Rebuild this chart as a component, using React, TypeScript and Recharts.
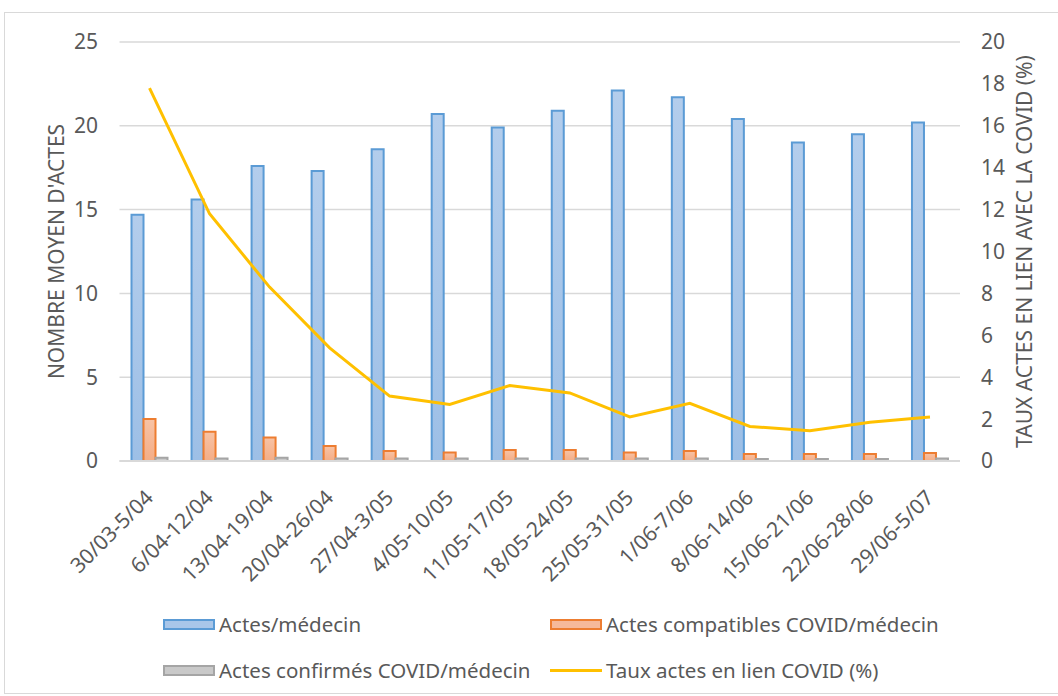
import React from 'react';
import {
  Bar,
  CartesianGrid,
  ComposedChart,
  Line,
  XAxis,
  YAxis,
} from 'recharts';

const weeks = [
  '30/03-5/04',
  '6/04-12/04',
  '13/04-19/04',
  '20/04-26/04',
  '27/04-3/05',
  '4/05-10/05',
  '11/05-17/05',
  '18/05-24/05',
  '25/05-31/05',
  '1/06-7/06',
  '8/06-14/06',
  '15/06-21/06',
  '22/06-28/06',
  '29/06-5/07',
];
const actes = [14.7, 15.6, 17.6, 17.3, 18.6, 20.7, 19.9, 20.9, 22.1, 21.7, 20.4, 19.0, 19.5, 20.2];
const compatibles = [2.5, 1.75, 1.4, 0.9, 0.6, 0.5, 0.65, 0.65, 0.5, 0.6, 0.42, 0.42, 0.42, 0.48];
const confirmes = [0.2, 0.15, 0.2, 0.15, 0.15, 0.15, 0.15, 0.15, 0.15, 0.15, 0.12, 0.12, 0.12, 0.15];
const taux = [17.8, 11.8, 8.3, 5.4, 3.1, 2.7, 3.6, 3.25, 2.1, 2.75, 1.65, 1.45, 1.85, 2.1];

const leftTicks = [0, 5, 10, 15, 20, 25];
const rightTicks = [0, 2, 4, 6, 8, 10, 12, 14, 16, 18, 20];

const data = weeks.map((week, i) => ({
  week,
  actes: actes[i],
  compatibles: compatibles[i],
  confirmes: confirmes[i],
  taux: taux[i],
}));

const FONT = '"Noto Sans", "Open Sans", sans-serif';
const TEXT = '#595959';

const legendItems = [
  { label: 'Actes/médecin', kind: 'box', fill: '#a9c6e9', stroke: '#5b9bd5' },
  { label: 'Actes compatibles COVID/médecin', kind: 'box', fill: '#f6b99a', stroke: '#ed7d31' },
  { label: 'Actes confirmés COVID/médecin', kind: 'box', fill: '#c9c9c9', stroke: '#a5a5a5' },
  { label: 'Taux actes en lien COVID (%)', kind: 'line', fill: 'none', stroke: '#ffc000' },
];

function WeekTick(props: any) {
  const { x, y, payload } = props;
  return (
    <g transform={`translate(${x + 5},${y + 30})`}>
      <text
        textAnchor="end"
        transform="rotate(-45)"
        fill={TEXT}
        fontSize={21}
        fontFamily={FONT}
      >
        {payload.value}
      </text>
    </g>
  );
}

function AxisTitle({ viewBox, text, dx }: any) {
  const cx = viewBox.x + dx;
  const cy = viewBox.y + viewBox.height / 2;
  return (
    <text
      x={cx}
      y={cy}
      transform={`rotate(-90, ${cx}, ${cy})`}
      textAnchor="middle"
      dominantBaseline="central"
      fill={TEXT}
      fontSize={21}
      fontFamily={FONT}
    >
      {text}
    </text>
  );
}

export default function App() {
  return (
    <div
      style={{
        position: 'absolute',
        left: 4,
        top: 12,
        width: 1060,
        height: 680,
        border: '1px solid #d9d9d9',
        background: '#fff',
        fontFamily: FONT,
      }}
    >
      <ComposedChart
        width={1052}
        height={600}
        data={data}
        margin={{ top: 29, right: 17, bottom: 0, left: 34.5 }}
        barCategoryGap="20%"
        barGap={0}
      >
        <defs>
          <linearGradient id="blueFill" x1="0" y1="0" x2="0" y2="1">
            <stop offset="0%" stopColor="#b3cdec" />
            <stop offset="100%" stopColor="#9dbfe6" />
          </linearGradient>
          <linearGradient id="orangeFill" x1="0" y1="0" x2="0" y2="1">
            <stop offset="0%" stopColor="#f8c3a5" />
            <stop offset="100%" stopColor="#f4ad86" />
          </linearGradient>
        </defs>
        <CartesianGrid yAxisId="left" vertical={false} stroke="#d9d9d9" strokeWidth={1.5} />
        <XAxis
          dataKey="week"
          height={152}
          interval={0}
          tickLine={false}
          axisLine={{ stroke: '#d9d9d9', strokeWidth: 2 }}
          tick={<WeekTick />}
        />
        <YAxis
          yAxisId="left"
          width={80}
          domain={[0, 25]}
          ticks={leftTicks}
          axisLine={false}
          tickLine={false}
          tickSize={0}
          tickMargin={21.5}
          tick={{ fill: TEXT, fontSize: 21, fontFamily: FONT }}
          label={{
            content: (p: any) => <AxisTitle {...p} text="NOMBRE MOYEN D'ACTES" dx={16.5} />,
          }}
        />
        <YAxis
          yAxisId="right"
          orientation="right"
          width={80}
          domain={[0, 20]}
          ticks={rightTicks}
          axisLine={false}
          tickLine={false}
          tickSize={0}
          tickMargin={21}
          tick={{ fill: TEXT, fontSize: 21, fontFamily: FONT }}
          label={{
            content: (p: any) => (
              <AxisTitle {...p} text="TAUX ACTES EN LIEN AVEC LA COVID (%)" dx={64} />
            ),
          }}
        />
        <Bar
          yAxisId="left"
          dataKey="actes"
          name="Actes/médecin"
          fill="url(#blueFill)"
          stroke="#5b9bd5"
          strokeWidth={2}
          isAnimationActive={false}
        />
        <Bar
          yAxisId="left"
          dataKey="compatibles"
          name="Actes compatibles COVID/médecin"
          fill="url(#orangeFill)"
          stroke="#ed7d31"
          strokeWidth={2}
          isAnimationActive={false}
        />
        <Bar
          yAxisId="left"
          dataKey="confirmes"
          name="Actes confirmés COVID/médecin"
          fill="#c9c9c9"
          stroke="#a5a5a5"
          strokeWidth={2}
          isAnimationActive={false}
        />
        <Line
          yAxisId="right"
          type="linear"
          dataKey="taux"
          name="Taux actes en lien COVID (%)"
          stroke="#ffc000"
          strokeWidth={3}
          dot={false}
          isAnimationActive={false}
        />
      </ComposedChart>

      <div
        style={{
          position: 'absolute',
          left: 158,
          top: 598,
          width: 800,
          display: 'grid',
          gridTemplateColumns: '387px 400px',
          rowGap: 20,
        }}
      >
        {legendItems.map((item) => (
          <div
            key={item.label}
            style={{ display: 'flex', alignItems: 'center', height: 26, color: TEXT, fontSize: 20.5 }}
          >
            {item.kind === 'box' ? (
              <span
                style={{
                  display: 'inline-block',
                  width: 48,
                  height: 7,
                  background: item.fill,
                  border: `2px solid ${item.stroke}`,
                  marginRight: 4,
                }}
              />
            ) : (
              <span
                style={{
                  display: 'inline-block',
                  width: 52,
                  height: 3,
                  background: item.stroke,
                  marginRight: 4,
                }}
              />
            )}
            <span style={{ whiteSpace: 'nowrap' }}>{item.label}</span>
          </div>
        ))}
      </div>
    </div>
  );
}
